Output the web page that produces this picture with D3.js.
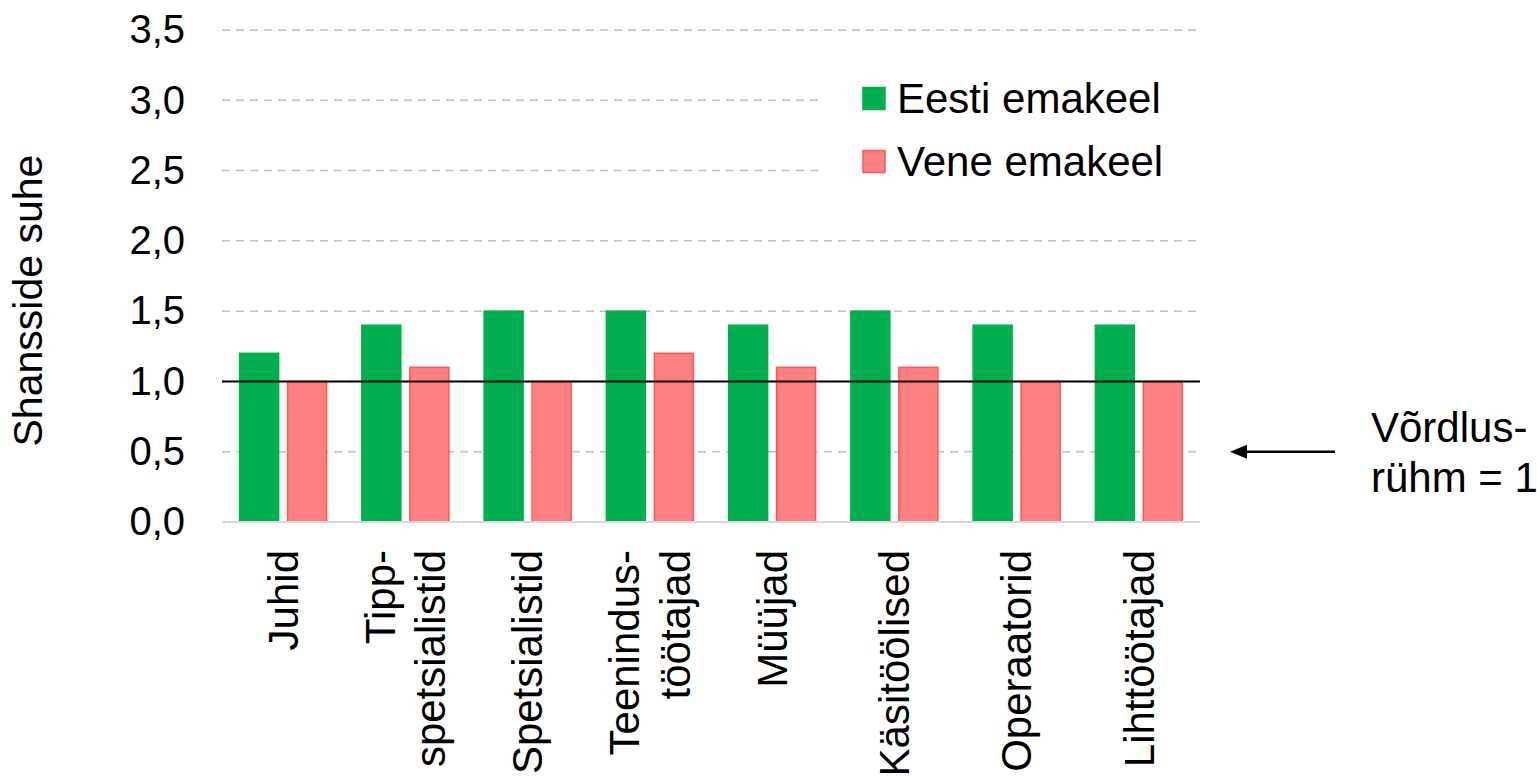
<!DOCTYPE html>
<html>
<head>
<meta charset="utf-8">
<script src="https://cdn.jsdelivr.net/npm/d3@7"></script>
<style>
  body { margin: 0; background: #fff; }
  text { font-family: "Liberation Sans", Arial, sans-serif; fill: #000; }
</style>
</head>
<body>
<div id="chart"></div>
<script>
// data
const categories = [
  ["Juhid"],
  ["Tipp-", "spetsialistid"],
  ["Spetsialistid"],
  ["Teenindus-", "töötajad"],
  ["Müüjad"],
  ["Käsitöölised"],
  ["Operaatorid"],
  ["Lihttöötajad"]
];
const seriesNames = ["Eesti emakeel", "Vene emakeel"];
const eestiValues = [1.2, 1.4, 1.5, 1.5, 1.4, 1.5, 1.4, 1.4];
const veneValues  = [1.0, 1.1, 1.0, 1.2, 1.1, 1.1, 1.0, 1.0];
const yTicks = [0, 0.5, 1.0, 1.5, 2.0, 2.5, 3.0, 3.5];
const referenceValue = 1;
const yTitle = "Shansside suhe";
const noteLines = ["Võrdlus-", "rühm = 1"];

const W = 1537, H = 776;
const m = {top: 30, right: 337, bottom: 254, left: 222};

const fills   = {"Eesti emakeel": "#00B050", "Vene emakeel": "#FF8080"};
const strokes = {"Eesti emakeel": "#00B050", "Vene emakeel": "#FF5555"};

const svg = d3.select("#chart").append("svg")
  .attr("width", W).attr("height", H);

const catKeys = categories.map(c => c.join(" "));

const x0 = d3.scaleBand()
  .domain(catKeys)
  .range([m.left, W - m.right]);

const x1 = d3.scaleBand()
  .domain(seriesNames)
  .range([0, x0.bandwidth()])
  .paddingInner(0.1875)
  .paddingOuter(0.367);

const y = d3.scaleLinear()
  .domain([0, 3.5])
  .range([H - m.bottom, m.top]);

const rows = catKeys.map((k, i) => ({
  key: k,
  values: [
    {name: seriesNames[0], v: eestiValues[i]},
    {name: seriesNames[1], v: veneValues[i]}
  ]
}));

// gridlines
svg.append("g")
  .selectAll("line")
  .data(yTicks.filter(t => t > 0))
  .enter().append("line")
  .attr("x1", m.left).attr("x2", W - m.right)
  .attr("y1", d => y(d)).attr("y2", d => y(d))
  .attr("stroke", "#BFBFBF")
  .attr("stroke-width", 1.5)
  .attr("stroke-dasharray", "8,6");

// y tick labels
const yAxis = svg.append("g")
  .attr("transform", `translate(${m.left},0)`)
  .call(d3.axisLeft(y).tickValues(yTicks).tickSize(0).tickPadding(37)
    .tickFormat(d => d3.format(".1f")(d).replace(".", ",")));
yAxis.select(".domain").remove();
yAxis.selectAll("text")
  .style("font-family", '"Liberation Sans", Arial, sans-serif')
  .style("font-size", "40px")
  .attr("fill", "#000");

// bars
const groups = svg.append("g")
  .selectAll("g")
  .data(rows)
  .enter().append("g")
  .attr("transform", d => `translate(${x0(d.key)},0)`);

groups.selectAll("rect")
  .data(d => d.values)
  .enter().append("rect")
  .attr("x", d => x1(d.name))
  .attr("width", x1.bandwidth())
  .attr("y", d => y(d.v))
  .attr("height", d => y(0) - y(d.v))
  .attr("fill", d => fills[d.name])
  .attr("stroke", d => strokes[d.name])
  .attr("stroke-width", 1.5);

// baseline
svg.append("line")
  .attr("x1", m.left).attr("x2", W - m.right)
  .attr("y1", y(0)).attr("y2", y(0))
  .attr("stroke", "#D9D9D9")
  .attr("stroke-width", 2);

// reference line at 1
svg.append("line")
  .attr("x1", m.left).attr("x2", W - m.right)
  .attr("y1", y(referenceValue)).attr("y2", y(referenceValue))
  .attr("stroke", "#000")
  .attr("stroke-width", 2);

// x labels, rotated
const xl = svg.append("g")
  .selectAll("text")
  .data(categories)
  .enter().append("text")
  .attr("transform", (d, i) => `translate(${x0(catKeys[i]) + x0.bandwidth() / 2},${y(0) + 28}) rotate(-90)`)
  .attr("text-anchor", "end")
  .style("font-size", "42px");

xl.each(function(d) {
  const t = d3.select(this);
  d.forEach((line, j) => {
    t.append("tspan")
      .attr("x", 0)
      .attr("dy", j === 0 ? (0.35 - (d.length - 1) * 0.6) + "em" : "1.2em")
      .text(line);
  });
});

// y title
svg.append("text")
  .attr("transform", `translate(42,${y(1.575)}) rotate(-90)`)
  .attr("text-anchor", "middle")
  .style("font-size", "41px")
  .text(yTitle);

// legend
const lg = svg.append("g").attr("transform", "translate(818,58)");
lg.append("rect")
  .attr("width", W - m.right - 818).attr("height", 140)
  .attr("fill", "#fff");

const li = lg.selectAll("g.item")
  .data(seriesNames)
  .enter().append("g")
  .attr("class", "item")
  .attr("transform", (d, i) => `translate(45,${40.5 + i * 63})`);

li.append("rect")
  .attr("x", 0).attr("y", -11)
  .attr("width", 22).attr("height", 22)
  .attr("fill", d => fills[d])
  .attr("stroke", d => strokes[d])
  .attr("stroke-width", 1.5);

li.append("text")
  .attr("x", 34)
  .attr("dy", "0.35em")
  .style("font-size", "42px")
  .text(d => d);

// arrow and note
const arrowY = y(0.5);
svg.append("line")
  .attr("x1", 1335).attr("x2", 1244)
  .attr("y1", arrowY).attr("y2", arrowY)
  .attr("stroke", "#000")
  .attr("stroke-width", 2.5);
svg.append("path")
  .attr("d", `M1230,${arrowY} L1247,${arrowY - 7} L1247,${arrowY + 7} Z`)
  .attr("fill", "#000");

svg.append("text")
  .attr("x", 1371)
  .attr("y", 442)
  .style("font-size", "42px")
  .selectAll("tspan")
  .data(noteLines)
  .enter().append("tspan")
  .attr("x", 1371)
  .attr("dy", (d, i) => i === 0 ? 0 : 50)
  .text(d => d);
</script>
</body>
</html>
